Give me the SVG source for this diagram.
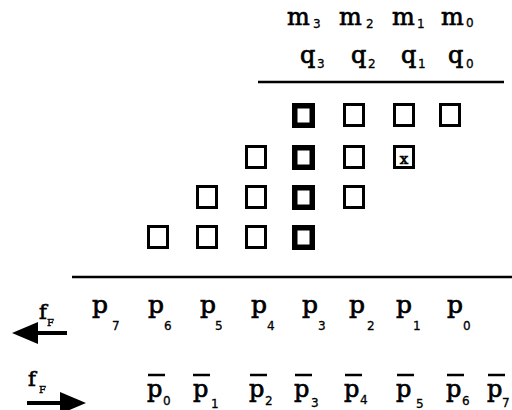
<svg xmlns="http://www.w3.org/2000/svg" width="512" height="410" viewBox="0 0 512 410">
<style>
.v{font-family:"DejaVu Serif","Liberation Serif",serif;fill:#000;stroke:#000;stroke-width:0.7}
.m{font-size:24px}
.p{font-size:25px}
.pb{font-size:24px}
.s{font-family:"DejaVu Sans","Liberation Sans",sans-serif;font-size:12px;fill:#000;stroke:#000;stroke-width:0.3}
.fs{font-family:"DejaVu Serif","Liberation Serif",serif;font-size:10px;fill:#000;stroke:#000;stroke-width:0.4}
.b{fill:none;stroke:#000;stroke-width:3}
.bb{fill:none;stroke:#000;stroke-width:5.5}
.ln{stroke:#000;stroke-width:2.5}
.ol{stroke:#000;stroke-width:2.5}
</style>
<rect width="512" height="410" fill="#fff"/>
<g id="operands">
<text class="v m" x="287" y="25">m</text><text class="s" x="313" y="28">3</text>
<text class="v m" x="339" y="25">m</text><text class="s" x="366" y="28">2</text>
<text class="v m" x="392" y="25">m</text><text class="s" x="417" y="28">1</text>
<text class="v m" x="441" y="25">m</text><text class="s" x="466" y="27">0</text>
<text class="v m" x="300" y="63">q</text><text class="s" x="317" y="68">3</text>
<text class="v m" x="351" y="63">q</text><text class="s" x="368" y="68">2</text>
<text class="v m" x="401" y="63">q</text><text class="s" x="418" y="68">1</text>
<text class="v m" x="448" y="63">q</text><text class="s" x="466" y="68">0</text>
</g>
<line class="ln" x1="258" y1="82" x2="504" y2="82"/>
<g id="row1">
<rect class="bb" x="294.75" y="105.75" width="17.5" height="19.5"/>
<rect class="b" x="344.5" y="104.5" width="19" height="21"/>
<rect class="b" x="394.5" y="104.5" width="19" height="21"/>
<rect class="b" x="440.5" y="104.5" width="19" height="21"/>
</g>
<g id="row2">
<rect class="b" x="246.5" y="146.5" width="19" height="21"/>
<rect class="bb" x="294.75" y="147.75" width="17.5" height="19.5"/>
<rect class="b" x="344.5" y="146.5" width="19" height="21"/>
<rect class="b" x="394.5" y="146.5" width="19" height="21"/>
<text class="v" x="404" y="164" font-size="15" text-anchor="middle">x</text>
</g>
<g id="row3">
<rect class="b" x="197.5" y="186.5" width="19" height="21"/>
<rect class="b" x="246.5" y="186.5" width="19" height="21"/>
<rect class="bb" x="294.75" y="187.75" width="17.5" height="19.5"/>
<rect class="b" x="344.5" y="186.5" width="19" height="21"/>
</g>
<g id="row4">
<rect class="b" x="148.5" y="226.5" width="19" height="21"/>
<rect class="b" x="197.5" y="226.5" width="19" height="21"/>
<rect class="b" x="246.5" y="226.5" width="19" height="21"/>
<rect class="bb" x="294.75" y="227.75" width="17.5" height="19.5"/>
</g>
<line class="ln" x1="72" y1="277" x2="512" y2="277"/>
<g id="product">
<text class="v p" x="92" y="313">p</text><text class="s" x="112" y="330">7</text>
<text class="v p" x="148" y="313">p</text><text class="s" x="164" y="330">6</text>
<text class="v p" x="200" y="313">p</text><text class="s" x="215" y="330">5</text>
<text class="v p" x="251" y="313">p</text><text class="s" x="267" y="330">4</text>
<text class="v p" x="302" y="313">p</text><text class="s" x="318" y="330">3</text>
<text class="v p" x="349" y="313">p</text><text class="s" x="367" y="330">2</text>
<text class="v p" x="396" y="313">p</text><text class="s" x="413" y="330">1</text>
<text class="v p" x="447" y="313">p</text><text class="s" x="463" y="330">0</text>
</g>
<g id="complement">
<text class="v pb" x="147" y="397">p</text><text class="s" x="163" y="405">0</text>
<text class="v pb" x="193" y="397">p</text><text class="s" x="211" y="408">1</text>
<text class="v pb" x="249" y="397">p</text><text class="s" x="265" y="405">2</text>
<text class="v pb" x="294" y="397">p</text><text class="s" x="311" y="407">3</text>
<text class="v pb" x="344" y="397">p</text><text class="s" x="360" y="404">4</text>
<text class="v pb" x="396" y="397">p</text><text class="s" x="416" y="408">5</text>
<text class="v pb" x="446" y="397">p</text><text class="s" x="462" y="405">6</text>
<text class="v pb" x="487" y="397">p</text><text class="s" x="502" y="407">7</text>
<line class="ol" x1="148" y1="375" x2="165" y2="375"/>
<line class="ol" x1="193" y1="375" x2="210" y2="375"/>
<line class="ol" x1="250" y1="375" x2="267" y2="375"/>
<line class="ol" x1="295" y1="375" x2="312" y2="375"/>
<line class="ol" x1="345" y1="375" x2="362" y2="375"/>
<line class="ol" x1="397" y1="375" x2="414" y2="375"/>
<line class="ol" x1="447" y1="375" x2="464" y2="375"/>
<line class="ol" x1="488" y1="375" x2="505" y2="375"/>
</g>
<g id="labels">
<text class="v" x="39" y="319" font-size="21">f</text><text class="fs" x="47" y="326">F</text>
<text class="v" x="28" y="386" font-size="21">f</text><text class="fs" x="39" y="393">F</text>
</g>
<g id="connectors">
<line x1="36" y1="333" x2="67" y2="333" stroke="#000" stroke-width="4"/>
<polygon points="12,333 38,322 38,344" fill="#000"/>
<line x1="27" y1="403" x2="62" y2="403" stroke="#000" stroke-width="4"/>
<polygon points="86,403 60,392 60,414" fill="#000"/>
</g>
</svg>
